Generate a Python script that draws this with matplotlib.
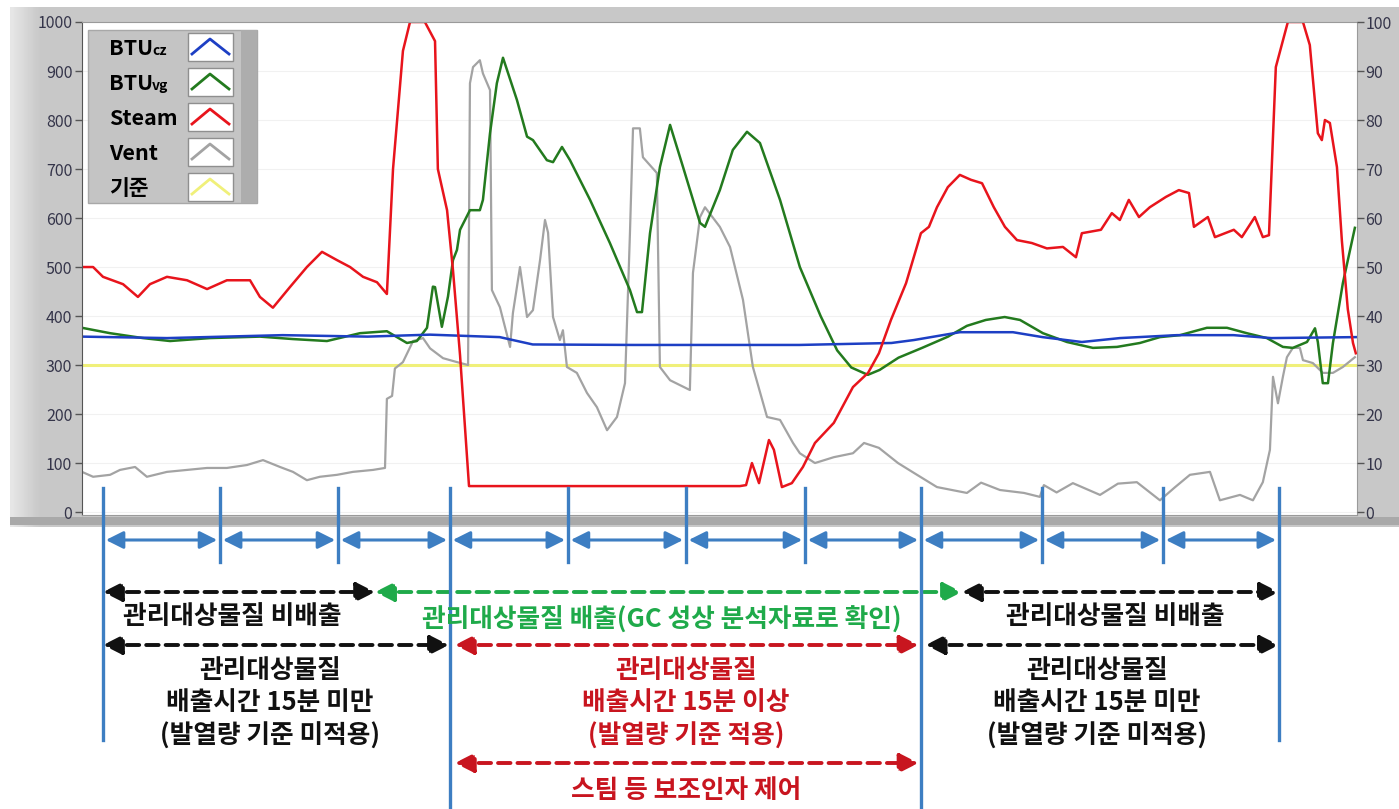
import matplotlib
matplotlib.use('Agg')
import numpy as np
import matplotlib.pyplot as plt
from matplotlib.patches import Rectangle
from matplotlib.lines import Line2D
from matplotlib.transforms import blended_transform_factory

plt.rcParams['font.family'] = ['Noto Sans CJK KR', 'DejaVu Sans']

W, H = 1399, 809

# time in minutes, values on the 0-1000 scale (right axis = /10)
steam_t = [0.00, 0.47, 0.89, 1.74, 2.37, 2.88, 3.60, 4.45, 5.30, 6.14, 7.12, 7.54, 8.09, 8.81,
           9.53, 10.17, 10.81, 11.36, 11.91, 12.50, 12.92, 13.18, 13.60, 13.90, 14.53, 14.96,
           15.08, 15.47, 15.72, 16.02, 16.40, 27.88, 28.14, 28.39, 28.69, 29.11, 29.32, 29.66,
           30.08, 30.55, 31.06, 31.86, 32.67, 33.31, 33.77, 34.28, 34.92, 35.55, 35.89, 36.23,
           36.69, 37.20, 37.67, 38.14, 38.64, 39.11, 39.62, 40.25, 40.89, 41.57, 42.12, 42.37,
           43.18, 43.64, 43.98, 44.36, 44.79, 45.25, 45.93, 46.48, 46.91, 47.12, 47.71, 48.01,
           48.81, 49.15, 49.70, 50.04, 50.30, 50.59, 51.10, 51.74, 52.03, 52.37, 52.54, 52.67,
           52.88, 53.18, 53.39, 53.64, 53.86, 53.98]
steam_v = [500, 500, 480, 465, 439, 465, 480, 473, 455, 473, 473, 439, 417, 459,
           500, 531, 514, 500, 480, 469, 445, 700, 941, 1000, 1000, 961,
           700, 616, 494, 320, 53, 53, 55, 100, 59, 147, 127, 51,
           59, 92, 141, 182, 255, 284, 324, 392, 467, 569, 582, 622,
           663, 688, 678, 671, 622, 582, 555, 549, 538, 541, 520, 569,
           576, 610, 596, 637, 602, 622, 643, 657, 651, 582, 602, 561,
           576, 561, 602, 561, 565, 908, 1000, 1000, 953, 773, 759, 800,
           794, 704, 553, 414, 345, 324]

btu_vg_t = [0.00, 1.19, 2.58, 3.73, 5.42, 7.54, 8.94, 10.38, 11.78, 12.92, 13.77, 14.19, 14.62,
            14.87, 14.96, 15.25, 15.51, 15.72, 15.89, 16.02, 16.44, 16.86, 16.99, 17.29, 17.58,
            17.84, 18.43, 18.86, 19.11, 19.70, 19.96, 20.34, 20.68, 21.53, 22.37, 23.22, 23.52,
            23.73, 24.07, 24.49, 24.92, 25.47, 26.19, 26.40, 27.03, 27.58, 28.18, 28.73, 29.58,
            30.42, 31.30, 32.00, 32.60, 33.30, 33.80, 34.60, 35.60, 36.70, 37.50, 38.30, 39.10,
            39.75, 40.72, 41.74, 42.84, 43.86, 44.83, 45.68, 46.53, 47.67, 48.52, 49.36, 50.21,
            50.89, 51.31, 51.91, 52.25, 52.37, 52.58, 52.80, 53.01, 53.43, 53.94]
btu_vg_v = [376, 365, 355, 349, 355, 358, 353, 349, 365, 369, 345, 349, 376,
            460, 459, 378, 440, 514, 535, 576, 616, 616, 637, 773, 875,
            927, 841, 766, 759, 718, 714, 745, 718, 637, 549, 453, 408,
            408, 569, 704, 790, 704, 590, 582, 657, 739, 776, 753, 637,
            500, 400, 330, 295, 280, 290, 315, 335, 358, 380, 392, 398,
            392, 365, 347, 335, 337, 345, 357, 361, 376, 376, 365, 355,
            337, 335, 347, 375, 347, 263, 263, 345, 467, 580]

btu_cz_t = [0.00, 3.60, 8.50, 12.10, 14.75, 17.70, 18.26, 19.10, 23.35, 30.40, 34.30, 35.25,
            37.20, 39.45, 40.70, 42.37, 43.98, 46.40, 48.80, 50.40, 54.00]
btu_cz_v = [358, 355, 361, 358, 362, 357, 351, 342, 341, 341, 345, 351,
            367, 367, 357, 347, 355, 361, 361, 355, 357]

vent_t = [0.00, 0.47, 1.19, 1.61, 2.25, 2.75, 3.60, 4.45, 5.30, 6.14, 6.99, 7.67, 8.39, 8.94,
          9.53, 10.08, 10.81, 11.48, 12.33, 12.84, 12.92, 13.14, 13.26, 13.60, 14.03, 14.45,
          14.75, 15.30, 15.89, 16.36, 16.44, 16.57, 16.86, 16.99, 17.29, 17.37, 17.71, 18.14,
          18.26, 18.56, 18.86, 19.11, 19.41, 19.62, 19.75, 19.96, 20.25, 20.38, 20.55, 20.97,
          21.40, 21.82, 22.25, 22.67, 23.01, 23.22, 23.35, 23.64, 23.77, 24.36, 24.49, 24.92,
          25.76, 25.89, 26.19, 26.40, 27.03, 27.46, 28.01, 28.43, 29.03, 29.58, 30.13, 30.42,
          31.06, 31.86, 32.67, 33.14, 33.77, 34.58, 35.25, 36.23, 37.50, 38.10, 38.90, 39.92,
          40.59, 40.76, 41.30, 41.99, 43.14, 43.90, 44.70, 45.68, 46.30, 46.95, 47.80, 48.22,
          49.07, 49.62, 50.04, 50.34, 50.47, 50.68, 50.89, 51.06, 51.31, 51.61, 51.74, 52.16,
          52.58, 53.01, 53.43, 53.94]
vent_v = [82, 72, 76, 86, 92, 72, 82, 86, 90, 90, 96, 106, 92, 82,
          65, 72, 76, 82, 86, 90, 231, 237, 293, 306, 349, 355,
          334, 314, 306, 300, 875, 908, 922, 895, 861, 453, 418, 337,
          406, 500, 398, 412, 514, 596, 570, 398, 351, 371, 296, 284,
          243, 214, 167, 194, 263, 569, 783, 783, 724, 692, 296, 269,
          249, 488, 602, 622, 582, 541, 433, 296, 194, 188, 141, 120,
          100, 112, 120, 141, 131, 100, 80, 51, 39, 60, 45, 39,
          31, 55, 40, 59, 35, 58, 61, 24, 50, 76, 82, 24,
          35, 24, 61, 127, 276, 222, 276, 316, 335, 335, 310, 304,
          284, 284, 296, 316]

ref_level = 300

series_names = ['BTUcz', 'BTUvg', 'Steam', 'Vent', '기준']
series_colors = ['#1d3fc4', '#237a1e', '#e8141c', '#a3a3a3', '#f0f07a']

# segment boundaries (minutes)
bounds = [0.89, 5.85, 10.85, 15.59, 20.59, 25.59, 30.64, 35.55, 40.68, 45.81, 50.72]
main_bounds = [0.89, 15.59, 35.55, 50.72]


def fx(px):
    return px / W


def fy(py):
    return 1 - py / H


fig = plt.figure(figsize=(W / 100, H / 100), dpi=100)
fig.patch.set_facecolor('white')

# grey LabVIEW-like frame with a light left edge
bg = fig.add_axes([fx(10), fy(527), fx(1399) - fx(10), fy(7) - fy(527)], zorder=-5)
shade = np.full((10, 300), 0.785)
shade[:, :6] = np.linspace(0.90, 0.80, 6)
bg.imshow(shade, cmap='gray', vmin=0, vmax=1, aspect='auto', interpolation='bilinear')
bg.axis('off')
fig.add_artist(Rectangle((fx(10), fy(525)), fx(1399) - fx(10), fy(517) - fy(525),
                         transform=fig.transFigure, facecolor='#a9a9a9', edgecolor='none', zorder=-1))

ax = fig.add_axes([fx(82), fy(515), fx(1357) - fx(82), fy(22) - fy(515)])
ax.set_facecolor('white')
ax.plot([0, 54.03], [ref_level, ref_level], color=series_colors[4], lw=2.2)
ax.plot(vent_t, vent_v, color=series_colors[3], lw=1.6)
ax.plot(btu_vg_t, btu_vg_v, color=series_colors[1], lw=1.8)
ax.plot(btu_cz_t, btu_cz_v, color=series_colors[0], lw=1.8)
ax.plot(steam_t, steam_v, color=series_colors[2], lw=1.8)
ax.set_xlim(0, 54.03)
ax.set_ylim(-6, 1000)
ax.set_xticks([])
ax.set_yticks(range(0, 1001, 100))
ax.grid(axis='y', color='#f1f1f1', lw=0.8)
ax.tick_params(axis='y', length=5, width=1, color='#555555', labelsize=11.5, labelcolor='#35354a', pad=2)
for s in ['top', 'right', 'bottom']:
    ax.spines[s].set_color('#9a9a9a')
ax.spines['left'].set_color('#555555')

ax2 = ax.twinx()
ax2.set_ylim(-0.6, 100)
ax2.set_yticks(range(0, 101, 10))
ax2.tick_params(axis='y', length=5, width=1, color='#555555', labelsize=11.5, labelcolor='#35354a', pad=1)
for s in ['top', 'right', 'bottom', 'left']:
    ax2.spines[s].set_visible(False)

# legend panel
fig.add_artist(Rectangle((fx(88), fy(203)), fx(257) - fx(88), fy(30) - fy(203),
                         transform=fig.transFigure, facecolor='#c4c4c4', edgecolor='#a8a8a8', lw=1, zorder=5))
fig.add_artist(Rectangle((fx(241), fy(203)), fx(257) - fx(241), fy(30) - fy(203),
                         transform=fig.transFigure, facecolor='#adadad', edgecolor='none', zorder=5))
leg_rows = [47, 82, 117, 152, 187]
for name, col, yc in zip(series_names, series_colors, leg_rows):
    if name.startswith('BTU'):
        fig.text(fx(109), fy(yc + 8), 'BTU', fontsize=15.5, fontweight='bold', va='baseline', zorder=6)
        fig.text(fx(152), fy(yc + 8), name[3:], fontsize=10, fontweight='bold', va='baseline', zorder=6)
    else:
        fig.text(fx(109), fy(yc + 8), name, fontsize=15.5, fontweight='bold', va='baseline', zorder=6)
    fig.add_artist(Rectangle((fx(188), fy(yc + 14)), fx(233) - fx(188), fy(yc - 14) - fy(yc + 14),
                             transform=fig.transFigure, facecolor='white', edgecolor='#8f8f8f', lw=1, zorder=6))
    fig.add_artist(Line2D([fx(192), fx(210), fx(229)], [fy(yc + 7), fy(yc - 8), fy(yc + 7)],
                          transform=fig.transFigure, color=col, lw=2, zorder=7))

# annotation layer below the chart
tr = blended_transform_factory(ax.transData, fig.transFigure)
blue = '#3d7ec2'
for b in bounds:
    bottom = 562
    if b in main_bounds:
        bottom = 809 if b in (15.59, 35.55) else 740
    fig.add_artist(Line2D([b, b], [fy(488), fy(bottom)], transform=tr, color=blue, lw=2.4, zorder=8))
for a, b in zip(bounds[:-1], bounds[1:]):
    ax.annotate('', xy=(b - 0.12, fy(540)), xytext=(a + 0.12, fy(540)), xycoords=tr, textcoords=tr,
                annotation_clip=False,
                arrowprops=dict(arrowstyle='<|-|>,head_length=0.7,head_width=0.35', color=blue,
                                lw=2.2, mutation_scale=15, shrinkA=0, shrinkB=0))

black, green, red = '#111111', '#1faa4a', '#c8151f'
dash_arrows = [
    (0.89, 12.42, 592, black), (12.42, 37.29, 592, green), (37.29, 50.72, 592, black),
    (0.89, 15.55, 645, black), (15.80, 35.45, 645, red), (35.75, 50.72, 645, black),
    (15.80, 35.45, 763, red),
]
for a, b, y, c in dash_arrows:
    ax.annotate('', xy=(b, fy(y)), xytext=(a, fy(y)), xycoords=tr, textcoords=tr,
                annotation_clip=False,
                arrowprops=dict(arrowstyle='<|-|>,head_length=0.75,head_width=0.38', color=c,
                                lw=2.8, linestyle=(0, (3.2, 1.8)), mutation_scale=15,
                                shrinkA=0, shrinkB=0))

text_kw = dict(transform=tr, ha='center', va='center', fontsize=18.5, fontweight='bold', zorder=9)
fig.text(6.36, fy(617), '관리대상물질 비배출', color=black, **text_kw)
fig.text(24.58, fy(620), '관리대상물질 배출(GC 성상 분석자료로 확인)', color=green, **text_kw)
fig.text(43.77, fy(617), '관리대상물질 비배출', color=black, **text_kw)
for x0, lines, c in [(7.97, ['관리대상물질', '배출시간 15분 미만', '(발열량 기준 미적용)'], black),
                     (25.59, ['관리대상물질', '배출시간 15분 이상', '(발열량 기준 적용)'], red),
                     (43.00, ['관리대상물질', '배출시간 15분 미만', '(발열량 기준 미적용)'], black)]:
    for ln, y in zip(lines, [670, 703, 736]):
        fig.text(x0, fy(y), ln, color=c, **text_kw)
fig.text(25.59, fy(790), '스팀 등 보조인자 제어', color=red, **text_kw)

fig.savefig('out.png', dpi=100)
